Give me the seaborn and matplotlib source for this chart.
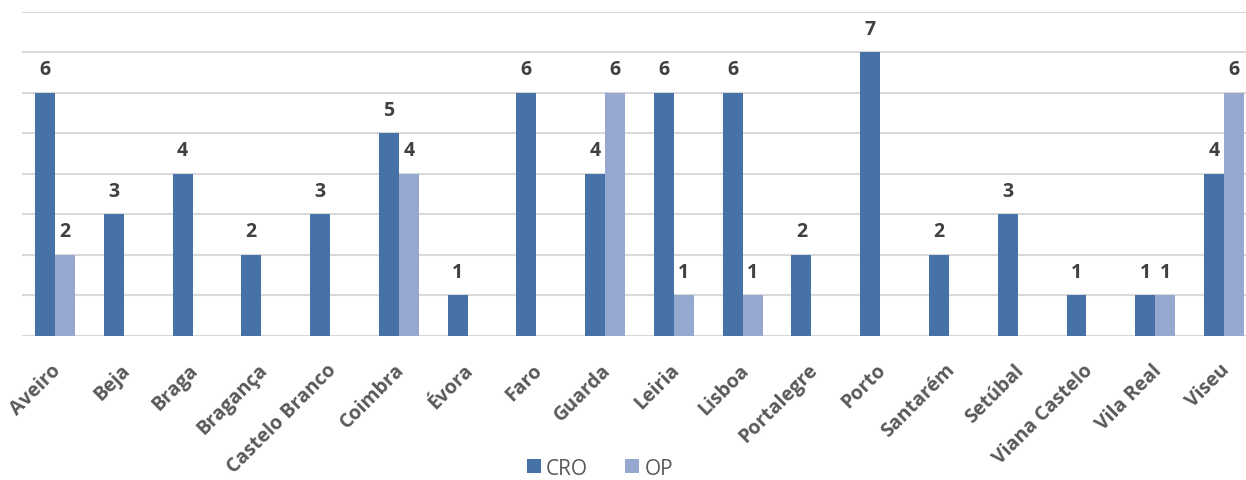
import matplotlib
matplotlib.use("Agg")
import matplotlib.pyplot as plt
import matplotlib.transforms as mtransforms
import seaborn as sns
import pandas as pd
import numpy as np

categories = ["Aveiro", "Beja", "Braga", "Bragança", "Castelo Branco", "Coimbra", "Évora",
              "Faro", "Guarda", "Leiria", "Lisboa", "Portalegre", "Porto", "Santarém",
              "Setúbal", "Viana Castelo", "Vila Real", "Viseu"]
cro = [6, 3, 4, 2, 3, 5, 1, 6, 4, 6, 6, 2, 7, 2, 3, 1, 1, 4]
op = [2, 0, 0, 0, 0, 4, 0, 0, 6, 1, 1, 0, 0, 0, 0, 0, 1, 6]
series = ["CRO", "OP"]
colors = ["#4672A8", "#95A9D0"]

df = pd.DataFrame({
    "cat": categories * 2,
    "val": cro + op,
    "serie": [series[0]] * len(categories) + [series[1]] * len(categories),
})

sns.set_theme(style="white")
plt.rcParams["font.family"] = ["Open Sans", "DejaVu Sans"]

fig = plt.figure(figsize=(12.46, 4.81), dpi=100)
ax = fig.add_axes([22 / 1246, 0.2994, 1 - 22 / 1246, 0.6736])

sns.barplot(data=df, x="cat", y="val", hue="serie", palette=colors, width=0.58,
            gap=0, saturation=1, ax=ax, zorder=3, legend=True, errorbar=None,
            linewidth=0, edgecolor="none")

ax.set_ylim(0, 8)
ax.set_yticks(range(0, 9))
ax.set_yticklabels([])
ax.tick_params(axis="y", length=0)
ax.grid(axis="y", color="#d9d9d9", linewidth=1.5, zorder=0)
ax.set_axisbelow(True)
for s in ax.spines.values():
    s.set_visible(False)
ax.set_xlabel("")
ax.set_ylabel("")
ax.set_xlim(-0.48, 17.32)

ax.set_xticks(range(len(categories)))
ax.set_xticklabels(categories, rotation=45, ha="right", rotation_mode="anchor",
                   fontsize=14, fontweight="bold", color="#595959")
ax.tick_params(axis="x", length=0, pad=17)
shift = mtransforms.ScaledTranslation(-4 / 100, 0, fig.dpi_scale_trans)
for lbl in ax.get_xticklabels():
    lbl.set_transform(lbl.get_transform() + shift)

for cont in ax.containers:
    for bar in cont:
        h = bar.get_height()
        if h > 0:
            ax.annotate(f"{int(h)}", (bar.get_x() + bar.get_width() / 2, h),
                        xytext=(0, 10), textcoords="offset points", ha="center",
                        va="bottom", fontsize=14, fontweight="bold", color="#404040")

leg = ax.legend(loc="lower center", bbox_to_anchor=((600 - 22) / 1224, -0.472), ncol=2,
                frameon=False, fontsize=15, handlelength=0.67, handleheight=0.67,
                handletextpad=0.25, columnspacing=1.78, borderpad=0)
for t in leg.get_texts():
    t.set_color("#595959")

fig.savefig("out.png", dpi=100)
